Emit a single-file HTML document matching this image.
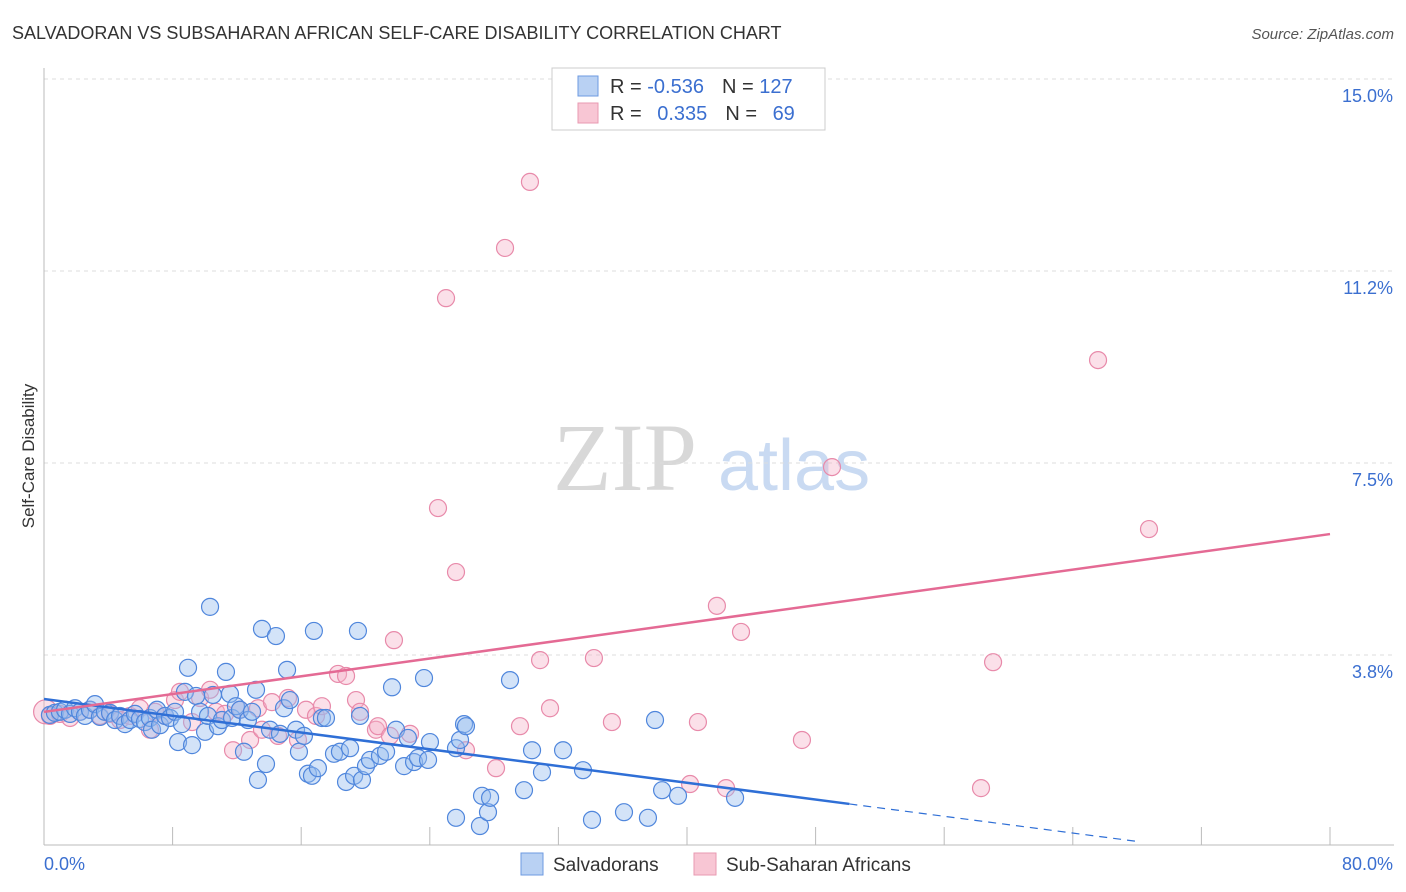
<!DOCTYPE html>
<html><head><meta charset="utf-8"><style>
body{margin:0;background:#fff;font-family:"Liberation Sans",sans-serif}
svg{display:block}
</style></head><body>
<svg id="c" width="1406" height="892">
<text x="12" y="39" font-size="18" fill="#333">SALVADORAN VS SUBSAHARAN AFRICAN SELF-CARE DISABILITY CORRELATION CHART</text>
<text x="1394" y="39" font-size="15" fill="#555" font-style="italic" text-anchor="end">Source: ZipAtlas.com</text>
<text x="34" y="456" font-size="17" fill="#333" text-anchor="middle" transform="rotate(-90 34 456)">Self-Care Disability</text>
<g><text x="553" y="490" font-family="Liberation Serif,serif" font-size="96" fill="#d8d8d8">ZIP</text><text x="718" y="490" font-size="72" fill="#c9daf2">atlas</text></g>
<g id="grid"></g><g id="marks"></g><g id="lines"></g>
<g>
<rect x="552" y="68" width="273" height="62" fill="#fff" stroke="#ccc"/>
<rect x="578" y="76" width="20" height="20" fill="#b9d1f3" stroke="#6d9ae0"/>
<rect x="578" y="103" width="20" height="20" fill="#f8c6d4" stroke="#e89ab2"/>
<text x="610" y="93" font-size="20" fill="#333">R = <tspan fill="#3b6fd0">-0.536</tspan><tspan dx="18">N = </tspan><tspan fill="#3b6fd0">127</tspan></text>
<text x="610" y="120" font-size="20" fill="#333">R = <tspan fill="#3b6fd0" dx="10">0.335</tspan><tspan dx="18">N = </tspan><tspan fill="#3b6fd0" dx="10">69</tspan></text>
</g>
<g>
<rect x="521" y="853" width="22" height="22" fill="#b9d1f3" stroke="#6d9ae0"/>
<text x="553" y="871" font-size="19" fill="#333">Salvadorans</text>
<rect x="694" y="853" width="22" height="22" fill="#f8c6d4" stroke="#e89ab2"/>
<text x="726" y="871" font-size="19" fill="#333">Sub-Saharan Africans</text>
</g>
</svg>
<script>
const xTicks=[0,8,16,24,32,40,48,56,64,72,80];
const yTicks=[3.75,7.5,11.25,15];
const yTickLabels=["3.8%","7.5%","11.2%","15.0%"];
const blueX=[.37,.68,.99,1.31,1.62,1.93,2.24,2.55,2.86,3.17,3.48,3.79,4.11,4.42,4.73,5.04,5.35,5.66,5.97,6.28,6.59,6.72,7.03,7.22,7.53,7.84,8.15,8.34,8.58,8.77,8.96,9.21,9.46,9.71,10.02,10.20,10.33,10.51,10.82,11.07,11.32,11.57,11.70,11.94,12.19,12.44,12.69,12.94,13.19,13.31,13.56,13.81,14.06,14.43,14.68,14.93,15.12,15.30,15.68,15.86,16.17,16.42,16.67,16.79,17.04,17.29,17.54,18.04,18.41,18.79,19.04,19.29,19.53,19.66,19.78,20.03,20.28,20.90,21.28,21.65,21.90,22.40,22.64,23.02,23.27,23.64,23.89,24.01,25.63,25.88,26.13,26.25,25.63,27.25,27.12,27.62,27.75,28.99,29.86,30.36,30.98,32.29,33.53,34.09,36.08,37.57,38.01,38.45,39.44,42.99];
const blueY=[2.58,2.62,2.64,2.68,2.60,2.71,2.64,2.56,2.68,2.79,2.54,2.64,2.62,2.48,2.56,2.40,2.48,2.60,2.50,2.44,2.52,2.29,2.68,2.38,2.56,2.52,2.64,2.05,2.40,3.03,3.50,1.99,2.95,2.64,2.25,2.56,4.69,2.97,2.36,2.48,3.42,2.99,2.52,2.75,2.68,1.86,2.48,2.64,3.07,1.31,4.26,1.62,2.29,4.12,2.21,2.71,3.46,2.87,2.29,1.86,2.17,1.43,1.39,4.22,1.54,2.52,2.52,1.82,1.86,1.27,1.93,1.39,4.22,2.56,1.31,1.58,1.70,1.78,1.86,3.12,2.29,1.58,2.13,1.66,1.74,3.30,1.70,2.05,1.93,2.09,2.40,2.36,0.57,1.00,0.41,0.68,0.96,3.26,1.11,1.89,1.46,1.89,1.50,0.53,0.68,0.57,2.48,1.11,1.00,0.96];
const pinkX=[.1,.37,.99,1.62,2.24,2.86,3.48,4.11,4.73,5.35,5.97,6.59,6.91,7.53,8.15,8.46,9.21,9.71,10.33,10.70,11.26,11.76,12.19,12.82,13.31,13.56,14.18,14.56,15.18,15.80,16.30,16.92,17.29,18.29,18.79,19.41,19.66,20.65,20.78,21.52,21.77,22.77,24.51,25.01,25.63,26.25,28.12,28.68,29.61,30.23,30.86,31.48,34.21,35.33,40.19,40.68,41.86,42.43,43.36,47.15,49.02,58.29,59.04,65.57,68.74];
const pinkY=[2.64,2.56,2.60,2.52,2.64,2.68,2.56,2.60,2.48,2.56,2.71,2.29,2.64,2.56,2.87,3.03,2.44,2.91,3.07,2.64,2.60,1.89,2.68,2.09,2.71,2.29,2.83,2.17,2.91,2.09,2.68,2.56,2.75,3.38,3.34,2.87,2.64,2.29,2.36,2.17,4.04,2.21,6.62,10.72,5.37,1.89,1.54,11.70,2.36,12.99,3.65,2.71,3.69,2.44,1.23,2.44,4.71,1.15,4.20,2.09,7.42,1.15,3.61,9.51,6.21];
const blueTrend=[2.89,-0.0409,50.1,68.2]; // intercept, slope, solid end, dashed end
const pinkTrend=[2.64,0.0434,80];
const NS="http://www.w3.org/2000/svg";
const sx=v=>44+v/80*1286, sy=v=>847-v/3.75*192;
function mk(p,t,a){const e=document.createElementNS(NS,t);for(const k in a)e.setAttribute(k,a[k]);p.appendChild(e);return e;}
const grid=document.getElementById('grid'),marks=document.getElementById('marks'),lines=document.getElementById('lines');
yTicks.forEach((v,i)=>{
 const g=mk(grid,'line',{x1:44,x2:1394,y1:sy(v),y2:sy(v),stroke:'#ddd','stroke-dasharray':'4 4'});
 
 
 const t=mk(grid,'text',{x:1393,y:sy(v)+23,'font-size':18,fill:'#3b6fd0','text-anchor':'end'});t.textContent=yTickLabels[i];
 
 
});
const ax=mk(grid,'line',{x1:44,x2:44,y1:68,y2:845,stroke:'#bbb'});


const bx=mk(grid,'line',{x1:44,x2:1394,y1:845,y2:845,stroke:'#bbb'});


xTicks.forEach(v=>{const l=mk(grid,'line',{x1:sx(v),x2:sx(v),y1:827,y2:845,stroke:'#bbb'});
 
 });
const xl=mk(grid,'text',{x:44,y:870,'font-size':18,fill:'#3b6fd0'});xl.textContent='0.0%';


const xr=mk(grid,'text',{x:1393,y:870,'font-size':18,fill:'#3b6fd0','text-anchor':'end'});xr.textContent='80.0%';


pinkX.forEach((v,i)=>{const c=mk(marks,'circle',{cx:sx(v),cy:sy(pinkY[i]),r:i==0?12:8.5,fill:'rgba(246,178,200,0.4)',stroke:'#e88aaa','stroke-width':1.2});
 
 });
blueX.forEach((v,i)=>{const c=mk(marks,'circle',{cx:sx(v),cy:sy(blueY[i]),r:8.5,fill:'rgba(150,188,238,0.42)',stroke:'#4f86dc','stroke-width':1.2});
 
 });
const bt=v=>blueTrend[0]+blueTrend[1]*v, pt=v=>pinkTrend[0]+pinkTrend[1]*v;
const l1=mk(lines,'line',{x1:sx(0),y1:sy(bt(0)),x2:sx(blueTrend[2]),y2:sy(bt(blueTrend[2])),stroke:'#2f6fd6','stroke-width':2.5});


const l2=mk(lines,'line',{x1:sx(blueTrend[2]),y1:sy(bt(blueTrend[2])),x2:sx(blueTrend[3]),y2:sy(bt(blueTrend[3])),stroke:'#2f6fd6','stroke-width':1.2,'stroke-dasharray':'8 6'});


const l3=mk(lines,'line',{x1:sx(0),y1:sy(pt(0)),x2:sx(pinkTrend[2]),y2:sy(pt(pinkTrend[2])),stroke:'#e46a94','stroke-width':2.5});


</script>
</body></html>
